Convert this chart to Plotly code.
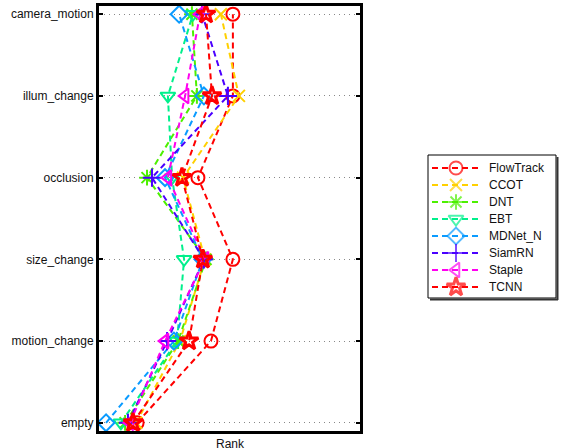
import plotly.graph_objects as go

categories = ["empty", "motion_change", "size_change", "occlusion", "illum_change", "camera_motion"]

trackers = ["FlowTrack", "CCOT", "DNT", "EBT", "MDNet_N", "SiamRN", "Staple", "TCNN"]

# rank values per tracker, ordered as in `categories`
flowtrack = [1.46, 4.29, 5.13, 3.79, 5.13, 5.13]
ccot      = [1.42, 3.10, 4.06, 3.22, 5.36, 4.67]
dnt       = [1.00, 3.03, 4.10, 1.84, 3.75, 3.56]
ebt       = [0.84, 2.99, 3.26, 2.80, 2.64, 3.60]
mdnet_n   = [0.27, 2.87, 3.98, 2.53, 4.02, 3.07]
siamrn    = [1.11, 2.61, 4.02, 2.03, 4.94, 3.95]
staple    = [1.19, 2.53, 4.06, 2.64, 3.30, 3.87]
tcnn      = [1.30, 3.45, 3.98, 3.18, 4.33, 4.10]

series = [flowtrack, ccot, dnt, ebt, mdnet_n, siamrn, staple, tcnn]
colors = ["#ff0000", "#ffd000", "#4cf000", "#00f08c", "#0a9bff", "#4a00ff", "#ff00f0", "#ff0000"]
symbols = ["circle-open", "x-thin-open", "asterisk-open", "triangle-down-open",
           "diamond-open", "cross-thin-open", "triangle-left-open", "star-open"]
mk_sizes = [13, 12, 13, 13, 13, 13, 13, 14]
mk_widths = [2, 2, 2, 2, 2, 2, 2, 3]

W, H = 562, 448
ML, MR, MT, MB = 99, 5, 6, 17
PW, PH = W - ML - MR, H - MT - MB
FONT = "Liberation Sans, Arial, sans-serif"


def px(xp):
    return (xp - ML) / PW


def py(yp):
    return (H - MB - yp) / PH


fig = go.Figure()
for name, vals, col, sym, ms, mw in zip(trackers, series, colors, symbols, mk_sizes, mk_widths):
    fig.add_trace(go.Scatter(
        x=vals, y=categories, mode="lines+markers", name=name, showlegend=False,
        line=dict(color=col, width=2, dash="6px,4px"),
        marker=dict(symbol=sym, size=ms, color=col, line=dict(color=col, width=mw)),
    ))

# hand-drawn legend (rows 17 px apart, in its own little axes)
row0, rowgap = 168, 17
for i, (name, col, sym, ms, mw) in enumerate(zip(trackers, colors, symbols, mk_sizes, mk_widths)):
    yrow = row0 + rowgap * i
    fig.add_trace(go.Scatter(
        x=[0, 0.5, 1], y=[yrow] * 3, xaxis="x2", yaxis="y2", mode="lines+markers",
        showlegend=False, hoverinfo="skip",
        line=dict(color=col, width=2, dash="6px,4px"),
        marker=dict(symbol=sym, size=[0, ms, 0], color=col, line=dict(color=col, width=mw)),
    ))
    fig.add_annotation(x=px(487), xref="paper", y=yrow, yref="y2", text=name,
                       showarrow=False, xanchor="left", yanchor="middle",
                       font=dict(size=12, color="#111"))

box_l, box_r, box_t, box_b = 428, 556, 155, 298
fig.add_shape(type="rect", xref="paper", yref="paper",
              x0=px(box_l), x1=px(box_r), y0=py(box_b), y1=py(box_t),
              line=dict(color="black", width=1), fillcolor="rgba(0,0,0,0)", layer="below")
fig.add_shape(type="line", xref="paper", yref="paper",
              x0=px(box_r + 1.5), x1=px(box_r + 1.5), y0=py(box_b + 2), y1=py(box_t + 2),
              line=dict(color="#333", width=2))
fig.add_shape(type="line", xref="paper", yref="paper",
              x0=px(box_l + 2), x1=px(box_r + 2), y0=py(box_b + 1.5), y1=py(box_b + 1.5),
              line=dict(color="#333", width=2))

# x-axis title, sitting low as in the original (partly below the page edge)
fig.add_annotation(x=px(230), xref="paper", y=py(435), yref="paper", text="Rank",
                   showarrow=False, xanchor="center", yanchor="top",
                   font=dict(size=12, color="#111"))

fig.update_layout(
    width=W, height=H,
    margin=dict(l=ML, r=MR, t=MT, b=MB),
    paper_bgcolor="white", plot_bgcolor="white",
    font=dict(family=FONT, size=12, color="#111"),
    showlegend=False,
    xaxis=dict(
        domain=[0, px(360)], range=[0, 10], showticklabels=False, ticks="", showgrid=False,
        zeroline=False, showline=True, linecolor="black", linewidth=3, mirror=True,
        automargin=False,
    ),
    yaxis=dict(
        type="category", categoryorder="array", categoryarray=categories,
        range=[-0.1, 5.1], ticks="inside", ticklen=4, tickwidth=2, tickcolor="black",
        showline=True, linecolor="black", linewidth=3, mirror="ticks",
        showgrid=True, gridcolor="#888", gridwidth=1, griddash="1px,4px", zeroline=False,
        tickfont=dict(size=12, color="#111"), automargin=False,
    ),
    xaxis2=dict(domain=[px(432), px(480)], range=[0, 1], visible=False, anchor="y2"),
    yaxis2=dict(domain=[py(box_b), py(box_t)], range=[box_b, box_t], visible=False, anchor="x2"),
)
fig.write_html("out.html", config={"displayModeBar": False},
               post_script="document.body.style.margin='0';")
